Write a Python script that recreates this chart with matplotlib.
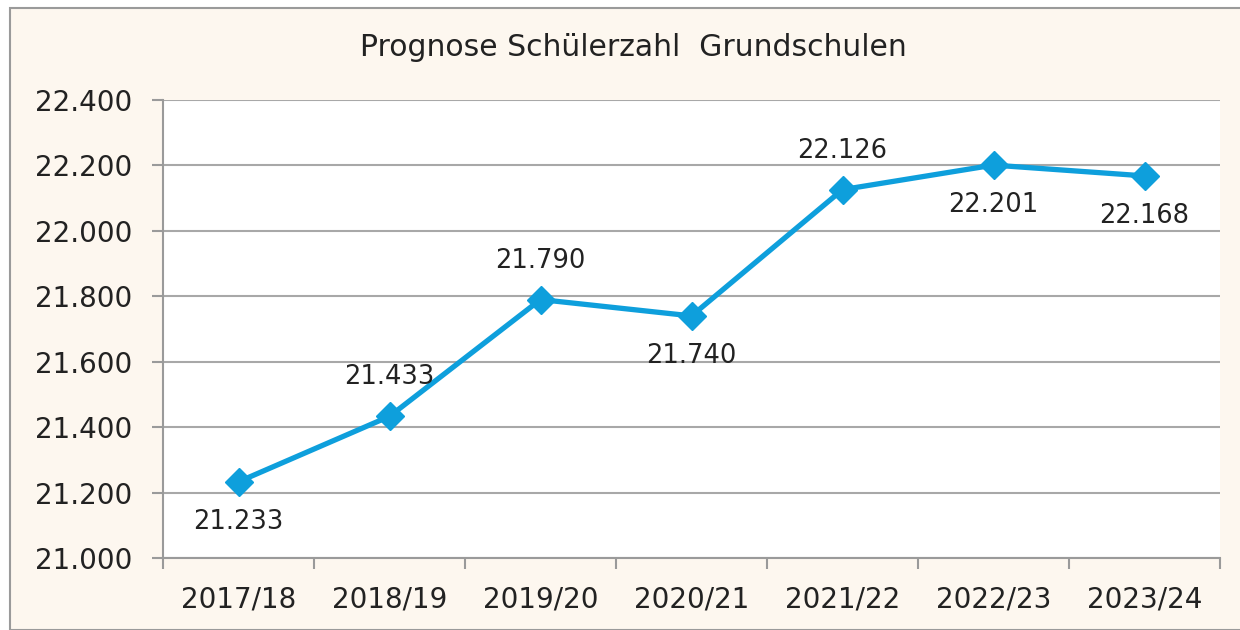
import matplotlib
matplotlib.use("Agg")
import matplotlib.pyplot as plt
from matplotlib.patches import Rectangle
from matplotlib.ticker import FuncFormatter, FixedLocator

categories = ["2017/18", "2018/19", "2019/20", "2020/21", "2021/22", "2022/23", "2023/24"]
values = [21233, 21433, 21790, 21740, 22126, 22201, 22168]
label_pos = ["below", "above", "above", "below", "above", "below", "below"]
title = "Prognose Schülerzahl  Grundschulen"

def de(v):
    return f"{v:,.0f}".replace(",", ".")

plt.rcParams['font.family'] = ['DejaVu Sans']
fig = plt.figure(figsize=(12.4, 6.3), dpi=100)
fig.patch.set_facecolor("white")
fig.patches.append(Rectangle((10/1240, 0), 1.0, 1 - 8/630, transform=fig.transFigure,
                             facecolor="#FDF7EF", edgecolor="#9A9A9A", lw=1.5, zorder=-10))

ax = fig.add_axes([163/1240, 1 - 558/630, (1220 - 163)/1240, (558 - 100)/630])
ax.set_facecolor("white")
color = "#0E9FDC"
x = list(range(len(categories)))
ax.plot(x, values, color=color, lw=3.8, marker="D", ms=14, mec=color, mfc=color, zorder=3, clip_on=False)

for xi, v, p in zip(x, values, label_pos):
    off = 28 if p == "above" else -29
    ax.annotate(de(v), (xi, v), xytext=(0, off), textcoords="offset points",
                ha="center", va="center", fontsize=18.5, color="#222222")

ax.set_xlim(-0.5, len(categories) - 0.5)
ax.set_ylim(21000, 22400)
ax.set_yticks(range(21000, 22401, 200))
ax.yaxis.set_major_formatter(FuncFormatter(lambda v, p: de(v)))
ax.set_xticks(x)
ax.set_xticklabels(categories)
ax.xaxis.set_minor_locator(FixedLocator([i - 0.5 for i in range(len(categories) + 1)]))
ax.tick_params(axis="x", which="major", length=0, pad=20, labelsize=20, labelcolor="#222222")
ax.tick_params(axis="x", which="minor", length=8, width=1.5, color="#9A9A9A", direction="out")
ax.tick_params(axis="y", length=8, width=1.5, color="#9A9A9A", pad=14, labelsize=20, labelcolor="#222222")
ax.grid(axis="y", color="#A8A8A8", lw=1.5)
ax.set_axisbelow(True)
for s in ["top", "right"]:
    ax.spines[s].set_visible(False)
for s in ["left", "bottom"]:
    ax.spines[s].set_color("#9A9A9A")
    ax.spines[s].set_linewidth(1.5)

fig.text(633/1240, 1 - 47/630, title, ha="center", va="center", fontsize=21.5, color="#222222")
fig.savefig("out.png", dpi=100)
